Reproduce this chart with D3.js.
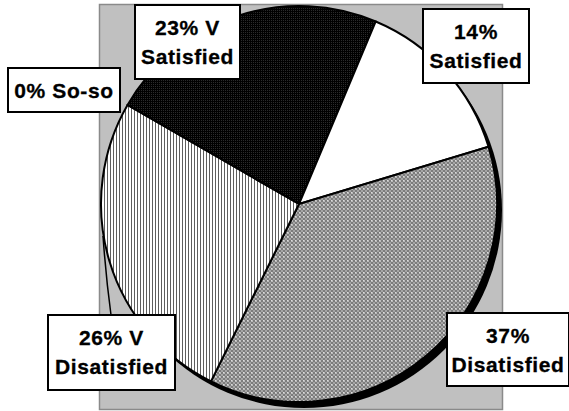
<!DOCTYPE html>
<html><head><meta charset="utf-8">
<script src="https://cdn.jsdelivr.net/npm/d3@7"></script>
<style>body{margin:0;background:#fff}svg{display:block}</style>
</head><body>
<svg id="chart" width="569" height="411"></svg>
<script>
// Survey results, clockwise from the "V Satisfied" wedge
const categories = ["V Satisfied", "Satisfied", "Disatisfied", "V Disatisfied", "So-so"];
const values = [23, 14, 37, 26, 0];
// whether the label breaks onto two lines after the percentage
const labelBreak = [true, true, true, true, false];

// label box centres and sizes (layout only)
const labelBoxes = [
  {cx: 187.5, y: 5,   w: 105, h: 74},
  {cx: 476,   y: 9,   w: 106, h: 74},
  {cx: 508,   y: 313, w: 122, h: 73},
  {cx: 111.5, y: 315, w: 127, h: 75},
  {cx: 64,    y: 68,  w: 112, h: 44}
];
const fills = ["url(#pDots)", "#ffffff", "url(#pWeave)", "url(#pVert)", "#ffffff"];

const svg = d3.select("#chart");
const defs = svg.append("defs");

// near-black fine dots
const pd = defs.append("pattern").attr("id", "pDots").attr("patternUnits", "userSpaceOnUse")
  .attr("width", 2).attr("height", 2);
pd.append("rect").attr("width", 2).attr("height", 2).attr("fill", "#000");
pd.append("rect").attr("width", 1).attr("height", 1).attr("fill", "#2a2a2a");

// grey woven texture
const pw = defs.append("pattern").attr("id", "pWeave").attr("patternUnits", "userSpaceOnUse")
  .attr("width", 4).attr("height", 4);
pw.append("rect").attr("width", 4).attr("height", 4).attr("fill", "#7c7c7c");
pw.append("rect").attr("x", 0).attr("y", 0).attr("width", 2).attr("height", 2).attr("fill", "#bcbcbc");
pw.append("rect").attr("x", 2).attr("y", 2).attr("width", 2).attr("height", 2).attr("fill", "#a6a6a6");
pw.append("rect").attr("x", 0).attr("y", 0).attr("width", 1).attr("height", 1).attr("fill", "#dcdcdc");

// vertical hairlines
const pv = defs.append("pattern").attr("id", "pVert").attr("patternUnits", "userSpaceOnUse")
  .attr("width", 3).attr("height", 3);
pv.append("rect").attr("width", 3).attr("height", 3).attr("fill", "#ffffff");
pv.append("rect").attr("width", 1).attr("height", 3).attr("fill", "#5e5e5e");

// plot area
svg.append("rect").attr("x", 99.5).attr("y", 4.5).attr("width", 403).attr("height", 405)
  .attr("fill", "#c0c0c0").attr("stroke", "#8a8a8a").attr("stroke-width", 1.5);

const cx = 299, cy = 204, r = 198;

// depth shadow under the pie
svg.append("circle").attr("cx", cx + 5).attr("cy", cy + 6).attr("r", r).attr("fill", "#000");

const pie = d3.pie().sort(null).value(d => d)
  .startAngle(-60 * Math.PI / 180).endAngle(300 * Math.PI / 180);
const arc = d3.arc().innerRadius(0).outerRadius(r);
const arcs = pie(values);

const g = svg.append("g").attr("transform", `translate(${cx},${cy})`);
g.selectAll("path").data(arcs).join("path")
  .attr("d", arc)
  .attr("fill", (d, i) => fills[i])
  .attr("stroke", "#000").attr("stroke-width", 2).attr("stroke-linejoin", "round");

// leader from the "V Disatisfied" label to its wedge edge
svg.append("path")
  .attr("d", "M103,236 Q106,278 111,315")
  .attr("fill", "none").attr("stroke", "#000").attr("stroke-width", 1.5);

// labels
const lab = svg.append("g").attr("font-family", "'Liberation Sans', Arial, sans-serif")
  .attr("font-weight", "bold").attr("font-size", 21).attr("letter-spacing", 0.6)
  .attr("text-anchor", "middle").attr("fill", "#000");

categories.forEach((c, i) => {
  const b = labelBoxes[i];
  lab.append("rect").attr("x", b.cx - b.w / 2).attr("y", b.y).attr("width", b.w).attr("height", b.h)
    .attr("fill", "#fff").attr("stroke", "#000").attr("stroke-width", 2);
  let lines;
  if (!labelBreak[i]) lines = [`${values[i]}% ${c}`];
  else if (c.startsWith("V ")) lines = [`${values[i]}% V`, c.slice(2)];
  else lines = [`${values[i]}%`, c];
  lines.forEach((t, k) => {
    lab.append("text").attr("x", b.cx).attr("y", b.y + 30 + k * 29)
      .attr("stroke", "#000").attr("stroke-width", 0.3).text(t);
  });
});
</script>
</body></html>
